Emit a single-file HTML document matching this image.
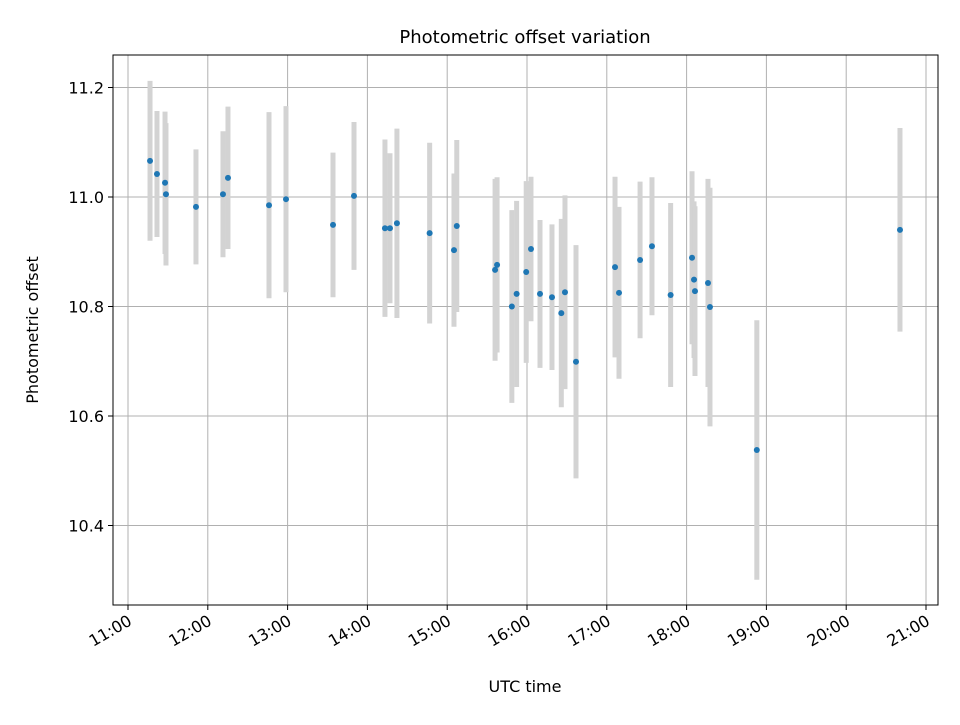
<!DOCTYPE html>
<html><head><meta charset="utf-8"><style>
html,body{margin:0;padding:0;background:#fff;}
svg text{font-family:"DejaVu Sans","Liberation Sans",sans-serif;fill:#000;}
</style></head><body>
<svg id="chart" width="960" height="720" viewBox="0 0 960 720" xmlns="http://www.w3.org/2000/svg">
<rect x="0" y="0" width="960" height="720" fill="#fff"/>
<text x="525" y="43" font-size="18" text-anchor="middle">Photometric offset variation</text>
<g id="grid"></g>
<g id="bars"></g>
<g id="points"></g>
<rect x="113" y="55" width="825" height="550" fill="none" stroke="#000" stroke-width="1"/>
<g id="ticks"></g>
<text x="525" y="692" font-size="16" text-anchor="middle">UTC time</text>
<text transform="translate(38,330) rotate(-90)" font-size="16" text-anchor="middle">Photometric offset</text>
</svg>
<script>
const times=[11.276,11.363,11.464,11.476,11.852,12.19,12.253,12.767,12.98,13.569,13.832,14.22,14.283,14.37,14.78,15.085,15.12,15.6,15.625,15.81,15.87,15.99,16.05,16.163,16.313,16.43,16.476,16.614,17.103,17.153,17.417,17.566,17.80,18.068,18.093,18.105,18.268,18.293,18.88,20.674];
const offsets=[11.066,11.042,11.026,11.005,10.982,11.005,11.035,10.985,10.996,10.949,11.002,10.943,10.943,10.952,10.934,10.903,10.947,10.867,10.876,10.80,10.823,10.863,10.905,10.823,10.817,10.788,10.826,10.699,10.872,10.825,10.885,10.91,10.821,10.889,10.849,10.828,10.843,10.799,10.538,10.94];
const errors=[0.146,0.115,0.13,0.13,0.105,0.115,0.13,0.17,0.17,0.132,0.135,0.162,0.137,0.173,0.165,0.14,0.157,0.166,0.16,0.176,0.17,0.166,0.132,0.135,0.133,0.172,0.177,0.213,0.165,0.157,0.143,0.126,0.168,0.158,0.143,0.155,0.19,0.218,0.237,0.186];
const yTicks=[10.4,10.6,10.8,11.0,11.2];
const yTickLabels=["10.4","10.6","10.8","11.0","11.2"];
const xTicks=[11,12,13,14,15,16,17,18,19,20,21];
const xTickLabels=["11:00","12:00","13:00","14:00","15:00","16:00","17:00","18:00","19:00","20:00","21:00"];
const NS="http://www.w3.org/2000/svg";
function xs(h){return 128+(h-11)*79.8;}
function ys(v){return 197-(v-11.0)*547.5;}
function mk(tag,attrs,parent){const e=document.createElementNS(NS,tag);for(const k in attrs)e.setAttribute(k,attrs[k]);parent.appendChild(e);return e;}
const grid=document.getElementById('grid'),ticks=document.getElementById('ticks'),bars=document.getElementById('bars'),pts=document.getElementById('points');
yTicks.forEach((v,i)=>{const y=ys(v);
 const g=mk('line',{x1:113,x2:938,y1:y,y2:y,stroke:'#b0b0b0','stroke-width':1},grid);
 
 
 const t=mk('line',{x1:108,x2:113,y1:y,y2:y,stroke:'#000'},ticks);
 
 
 const l=mk('text',{x:104,y:y+6,'font-size':16,'text-anchor':'end'},ticks);l.textContent=yTickLabels[i];
 
 
});
xTicks.forEach((h,i)=>{const x=xs(h);
 const g=mk('line',{x1:x,x2:x,y1:55,y2:605,stroke:'#b0b0b0','stroke-width':1},grid);
 
 
 const t=mk('line',{x1:x,x2:x,y1:605,y2:610,stroke:'#000'},ticks);
 
 
 const l=mk('text',{transform:`translate(${x+5},${624}) rotate(-30)`,'font-size':16,'text-anchor':'end'},ticks);l.textContent=xTickLabels[i];
 
 
});
times.forEach((h,i)=>{const x=xs(h);
 const b=mk('line',{x1:x,x2:x,y1:ys(offsets[i]+errors[i]),y2:ys(offsets[i]-errors[i]),stroke:'#d3d3d3','stroke-width':5},bars);
 
 
 const c=mk('circle',{cx:x,cy:ys(offsets[i]),r:3,fill:'#1f77b4'},pts);
 
 
});
</script>
</body></html>
